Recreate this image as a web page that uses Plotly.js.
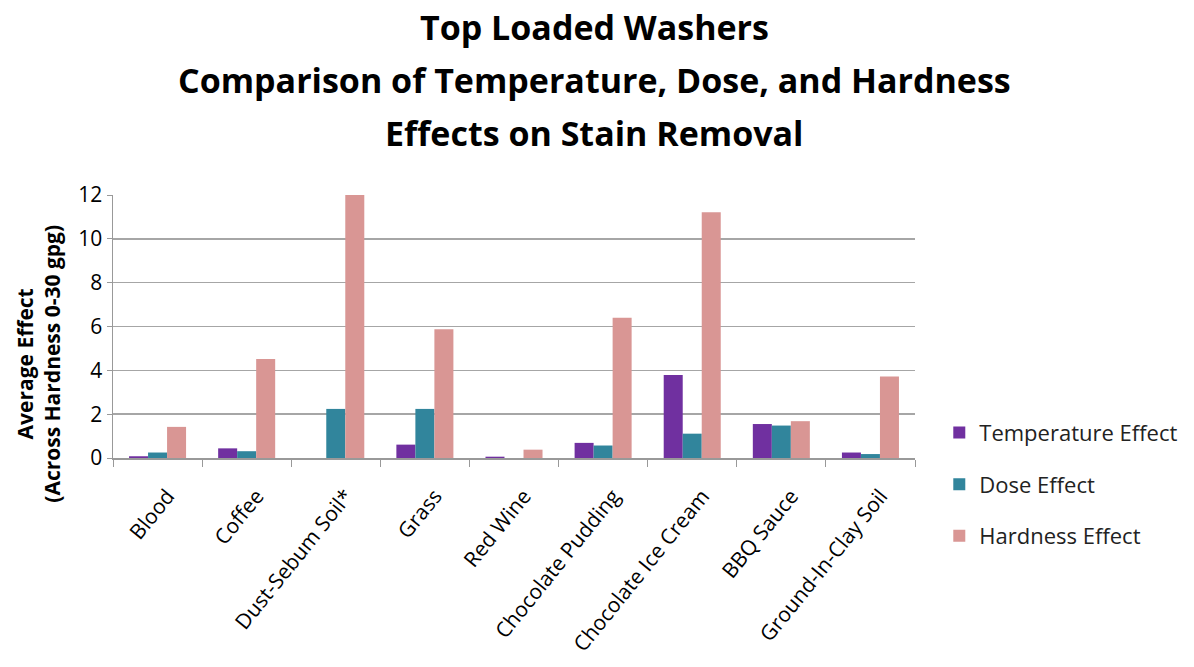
<!DOCTYPE html>
<html>
<head>
<meta charset="utf-8">
<script src="https://cdn.plot.ly/plotly-3.0.1.min.js"></script>
<style>html,body{margin:0;padding:0;background:#fff;}#chart{width:1194px;height:667px;}</style>
</head>
<body>
<div id="chart"></div>
<script>
const categories = ["Blood", "Coffee", "Dust-Sebum Soil*", "Grass", "Red Wine", "Chocolate Pudding", "Chocolate Ice Cream", "BBQ Sauce", "Ground-In-Clay Soil"];
const temperatureEffect = [0.08, 0.44, 0.0, 0.61, 0.06, 0.69, 3.79, 1.55, 0.25];
const doseEffect = [0.25, 0.31, 2.24, 2.24, 0.0, 0.57, 1.11, 1.48, 0.18];
const hardnessEffect = [1.42, 4.52, 12.0, 5.88, 0.38, 6.40, 11.21, 1.68, 3.72];
const yTicks = [0, 2, 4, 6, 8, 10, 12];
const titleLines = ["Top Loaded Washers", "Comparison of Temperature, Dose, and Hardness", "Effects on Stain Removal"];
const yTitle = "Average Effect<br>(Across Hardness 0-30 gpg)";

const font = "Open Sans, Noto Sans, sans-serif";
const traces = [
  {name: "Temperature Effect", y: temperatureEffect, color: "#7030A0"},
  {name: "Dose Effect", y: doseEffect, color: "#31859C"},
  {name: "Hardness Effect", y: hardnessEffect, color: "#D99694"}
].map((s, i) => ({
  type: "bar", x: categories, y: s.y, name: s.name,
  legendgroup: "g" + i,
  marker: {color: s.color, line: {width: 0}},
  hoverinfo: "x+y+name"
}));

const titleY = [1.639, 1.437, 1.236];
const annotations = titleLines.map((t, i) => ({
  text: "<b>" + t + "</b>", xref: "paper", yref: "paper",
  x: 0.6, y: titleY[i], xanchor: "center", yanchor: "middle",
  showarrow: false, font: {family: font, size: 34, color: "#000"}
}));
annotations.push({
  text: "<b>" + yTitle + "</b>", xref: "paper", yref: "paper",
  x: -0.094, y: 0.357, xanchor: "center", yanchor: "middle",
  textangle: -90, showarrow: false,
  font: {family: font, size: 21, color: "#000"}
});

const layout = {
  width: 1194, height: 667,
  margin: {l: 113, r: 278, t: 195, b: 209},
  paper_bgcolor: "#fff", plot_bgcolor: "#fff",
  barmode: "group", bargap: 0.36, bargroupgap: 0,
  annotations: annotations,
  xaxis: {
    type: "category", tickangle: -51,
    tickfont: {family: font, size: 21, color: "#000"},
    ticks: "outside", tickson: "boundaries", ticklen: 7, tickcolor: "#999",
    ticklabelshift: 10, ticklabelstandoff: 16,
    showline: true, linecolor: "#999", linewidth: 1.5,
    showgrid: false, automargin: false
  },
  yaxis: {
    range: [0, 12], tickvals: yTicks,
    tickfont: {family: font, size: 21, color: "#000"},
    ticks: "outside", ticklen: 5, tickcolor: "#999",
    showline: true, linecolor: "#999", linewidth: 1.5,
    showgrid: true, gridcolor: "#a6a6a6", gridwidth: 1.5,
    zeroline: false, automargin: false
  },
  legend: {
    x: 1.029, xanchor: "left", y: -0.1, yanchor: "middle",
    font: {family: font, size: 22, color: "#222"},
    traceorder: "grouped", tracegroupgap: 20,
    bgcolor: "rgba(0,0,0,0)"
  },
  showlegend: true
};

Plotly.newPlot("chart", traces, layout, {displayModeBar: false, staticPlot: true});
</script>
</body>
</html>
